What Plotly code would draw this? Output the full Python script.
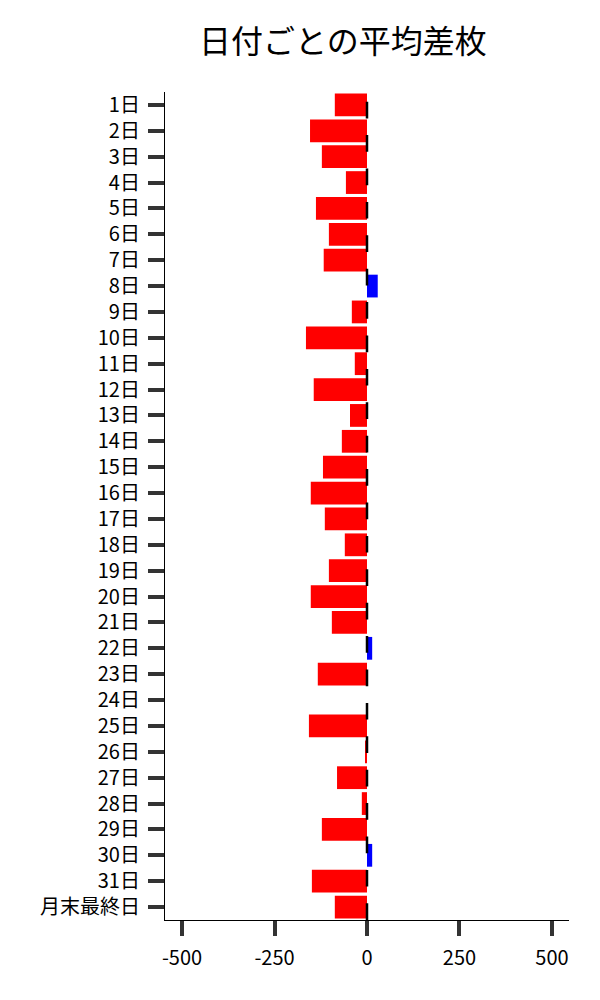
import plotly.graph_objects as go

days = [f"{i}日" for i in range(1, 32)] + ["月末最終日"]
values = [-87, -154, -122, -57, -138, -103, -117, 29, -41, -165,
          -33, -144, -46, -68, -119, -152, -114, -60, -103, -152,
          -95, 14, -133, 0, -157, -5, -81, -14, -122, 14,
          -149, -87]
x_ticks = [-500, -250, 0, 250, 500]

colors = ["#0000FF" if v > 0 else "#FF0000" for v in values]
FONT = "Noto Sans CJK JP"

fig = go.Figure(go.Bar(
    x=values, y=days, orientation="h",
    marker=dict(color=colors, line=dict(width=0)),
    width=0.88,
))

fig.add_shape(type="line", xref="x", yref="paper", x0=0, x1=0, y0=0, y1=1,
              line=dict(color="black", width=2.5, dash="16.7px,16.7px"), layer="above")

fig.update_layout(
    width=600, height=1000,
    margin=dict(l=157, r=39, t=84, b=88),
    paper_bgcolor="white", plot_bgcolor="white",
    font=dict(family=FONT, size=20, color="black"),
    title=dict(text="日付ごとの平均差枚", x=0.558, xanchor="center",
               y=0.966, yanchor="middle",
               font=dict(family=FONT, size=32, color="black")),
    showlegend=False,
)
fig.update_xaxes(
    range=[-546, 546], tickvals=x_ticks, ticktext=[str(t) for t in x_ticks],
    showgrid=False, zeroline=False,
    showline=True, linecolor="black", linewidth=1.2,
    ticks="outside", ticklen=15, tickwidth=4, tickcolor="#333333",
    ticklabelstandoff=5,
    tickfont=dict(family=FONT, size=20, color="black"),
)
fig.update_yaxes(
    autorange="reversed", type="category",
    showgrid=False, zeroline=False,
    showline=True, linecolor="black", linewidth=1.2,
    ticks="outside", ticklen=16, tickwidth=4, tickcolor="#333333",
    ticklabelstandoff=4,
    tickfont=dict(family=FONT, size=20, color="black"),
)

fig.write_html("out.html")
